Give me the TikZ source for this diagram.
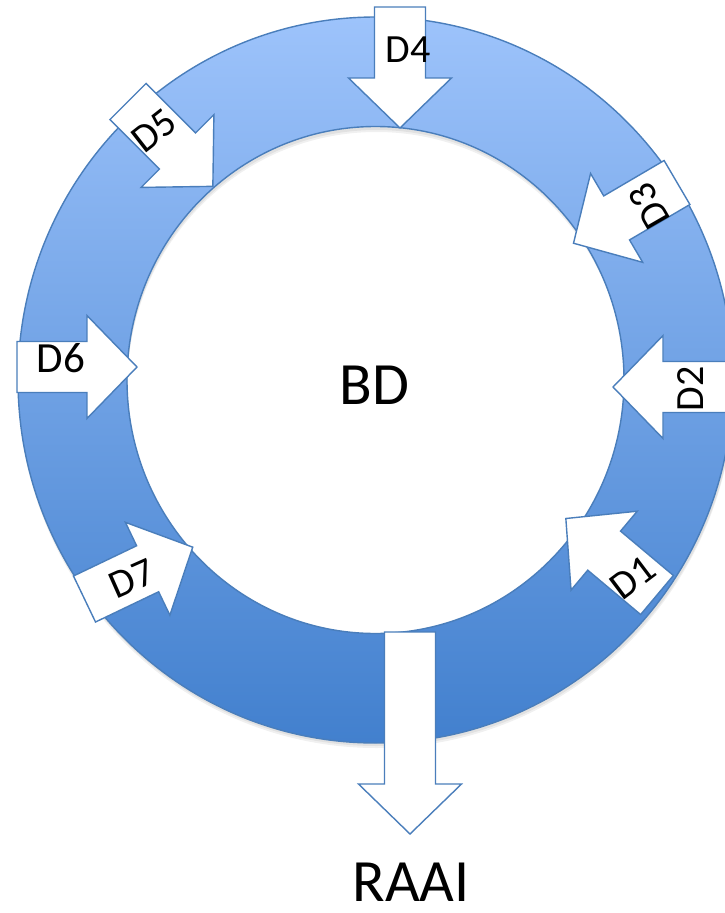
\documentclass[tikz,border=0pt]{standalone}
\usepackage{fontspec}
\setmainfont{Carlito}
\definecolor{ringtop}{RGB}{157,195,251}
\definecolor{ringbot}{RGB}{66,128,206}
\definecolor{edgeblue}{RGB}{74,126,187}
\tikzset{
  blockarrow/.style={draw=edgeblue, fill=white, line width=1.4pt, line join=miter},
  lbl/.style={inner sep=0pt, font=\fontsize{40}{48}\selectfont},
  big/.style={inner sep=0pt, font=\fontsize{60}{72}\selectfont},
  ringedge/.style={draw=edgeblue, line width=1.4pt},
}
% #1 tail x, #2 tail y (pixels, downwards), #3 angle, #4 shaft length
\newcommand{\blockarr}[4]{%
  \draw[blockarrow, shift={(#1,-#2)}, rotate=#3]
    (0,-25.5) -- (#4,-25.5) -- (#4,-51.5) -- ({#4+50},0) -- (#4,51.5) -- (#4,25.5) -- (0,25.5) -- cycle;}
\begin{document}
\begin{tikzpicture}[x=1pt,y=1pt]
\clip (0,0) rectangle (725,-913);
\fill[white] (0,0) rectangle (725,-913);
\coordinate (c) at (375.5,-380);
% soft shadow
\fill[black, opacity=0.06, even odd rule] ([shift={(1,-5)}]c) ellipse [x radius=358, y radius=363] ([shift={(1,-5)}]c) ellipse [x radius=249, y radius=253];
\fill[black, opacity=0.06, even odd rule] ([shift={(1,-3)}]c) ellipse [x radius=358, y radius=363] ([shift={(1,-3)}]c) ellipse [x radius=249, y radius=253];
% ring
\shade[top color=ringtop, bottom color=ringbot, even odd rule]
  (c) ellipse [x radius=357.5, y radius=363] (c) ellipse [x radius=248.5, y radius=253.5];
\draw[ringedge] (c) ellipse [x radius=357.5, y radius=363];
\draw[ringedge] (c) ellipse [x radius=248.5, y radius=253.5];
% block arrows
\blockarr{400}{7}{270}{71}
\blockarr{128}{101.5}{-45}{70}
\blockarr{677}{182.5}{210.4}{70}
\blockarr{733}{387}{180}{70}
\blockarr{657}{595}{140}{69}
\blockarr{84.5}{599}{25.6}{70}
\blockarr{17}{367}{0}{70}
\blockarr{410}{632}{270}{152}
% labels
\node[lbl] (d4) at (408,-50) {D4};
\node[lbl, rotate=38] (d5) at (154,-131) {D5};
\node[lbl, rotate=120] (d3) at (649,-206) {D3};
\node[lbl, rotate=90] (d2) at (691,-389) {D2};
\node[lbl, rotate=37] (d1) at (633,-578) {D1};
\node[lbl, rotate=24] (d7) at (132,-579) {D7};
\node[lbl, font=\fontsize{43}{50}\selectfont] (d6) at (61,-358) {D6};
\node[big] (bd) at (374.5,-385) {BD};
\node[big] (raai) at (411,-882) {RAAI};
\end{tikzpicture}
\end{document}
